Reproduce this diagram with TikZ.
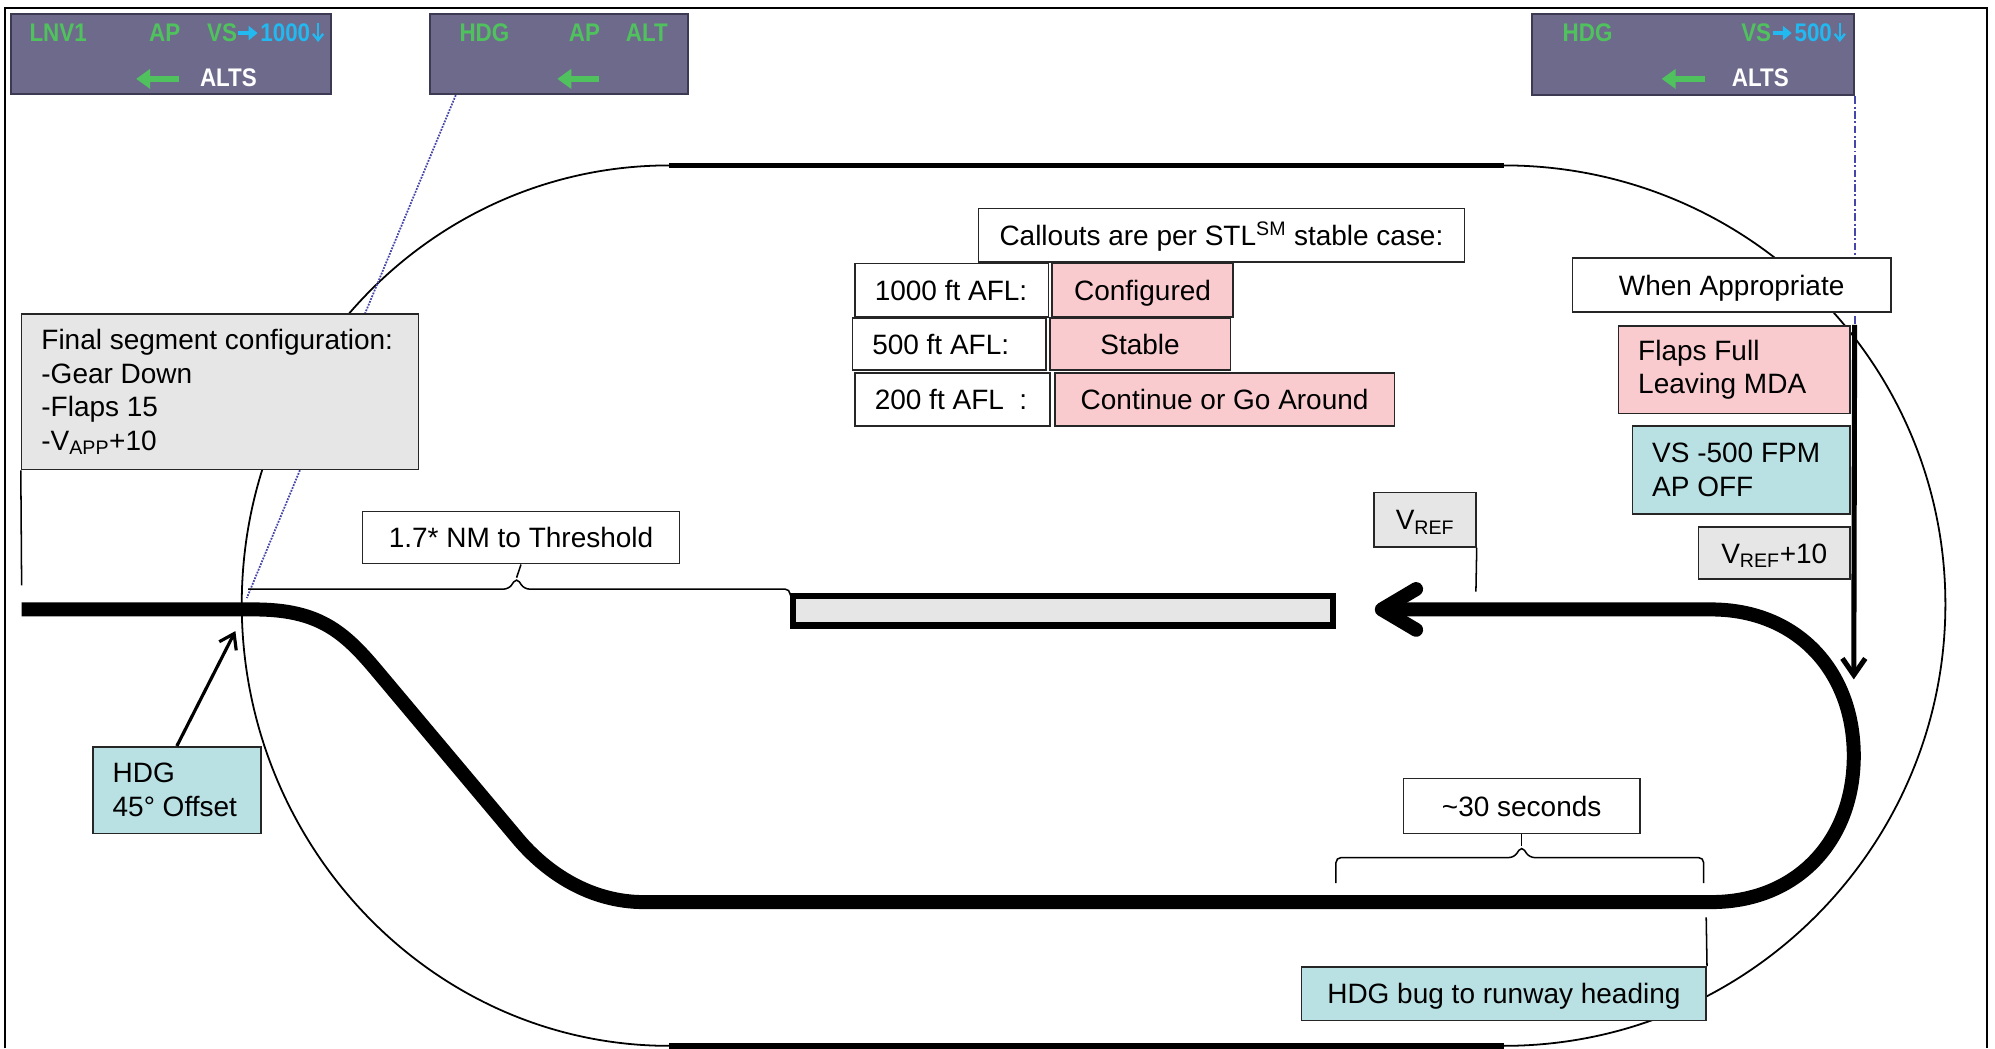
\documentclass[tikz,border=0pt]{standalone}
\usepackage{fontspec}
\setmainfont{Liberation Sans}
\newfontfamily\fmafont[FakeStretch=0.88]{Liberation Sans}
\usetikzlibrary{arrows.meta,calc,fit,positioning}

\definecolor{fmaback}{HTML}{6E6A8C}
\definecolor{fmaedge}{HTML}{3C3A52}
\definecolor{fmagreen}{HTML}{4FC25E}
\definecolor{fmacyan}{HTML}{22B8F0}
\definecolor{calloutpink}{HTML}{F9CBCE}
\definecolor{modecyan}{HTML}{B9E1E4}
\definecolor{speedgray}{HTML}{E6E6E6}
\definecolor{guideblue}{HTML}{4646AA}

\newcommand{\PTTrackWidth}{11pt}
\newcommand{\PTOvalWidth}{1.4pt}
\newcommand{\PTTextInset}{16}
\newcommand{\PTCapShift}{8}

\tikzset{
  ptbox/.style={draw=black!85, line width=1.3pt, fill=white, inner sep=0pt},
  pinkbox/.style={ptbox, fill=calloutpink},
  cyanbox/.style={ptbox, fill=modecyan},
  graybox/.style={ptbox, fill=speedgray},
  runwaybox/.style={draw=black, line width=5pt, fill=speedgray, inner sep=0pt},
  fmabox/.style={draw=fmaedge, line width=1.6pt, fill=fmaback, inner sep=0pt},
  fmatext/.style={font={\fmafont\bfseries\fontsize{20}{20}\selectfont}, inner sep=0pt},
  fmaarrow/.style={fmagreen, line width=4.5pt, -{Triangle[length=11pt,width=15pt]}},
  selarrow/.style={fmacyan, line width=3.5pt, -{Triangle[length=7pt,width=11pt]}},
  downarrow/.style={fmacyan, line width=1.8pt, -{Straight Barb[length=5pt,width=8pt]}},
  track/.style={line width=\PTTrackWidth, line join=round},
  oval/.style={line width=\PTOvalWidth},
  guide/.style={line width=1.2pt},
}

\newcommand{\PTBox}[5]{
  \coordinate (#2-nw) at #3;
  \coordinate (#2-se) at #4;
  \node[#1, fit=(#2-nw) (#2-se)] (#2) {};
  \node[anchor=base, inner sep=0pt] (#2-text) at ($(#2.center)+(0,\PTCapShift)$) {#5};
}
\newcommand{\PTBoxLeft}[5]{
  \coordinate (#2-nw) at #3;
  \coordinate (#2-se) at #4;
  \node[#1, fit=(#2-nw) (#2-se)] (#2) {};
  \node[align=left, anchor=west, inner sep=0pt] (#2-text) at ($(#2.west)+(\PTTextInset,0)$) {#5};
}
\newcommand{\FMAPanel}[3]{
  \coordinate (#1-nw) at #2;
  \coordinate (#1-se) at #3;
  \node[fmabox, fit=(#1-nw) (#1-se)] (#1) {};
}
\newcommand{\FMAVert}[3]{
  \node[fmatext, text=fmacyan, anchor=base east] (#1-alt) at #2 {#3};
  \draw[downarrow] ($(#1-alt.base east)+(6,-15)$) -- ($(#1-alt.base east)+(6,0)$);
  \draw[selarrow] ($(#1-alt.base west)+(-17,-7)$) -- ($(#1-alt.base west)+(-2,-7)$);
  \node[fmatext, text=fmagreen, anchor=base east] (#1-vs) at ($(#1-alt.base west)+(-18,0)$) {VS};
}

\begin{document}
\begin{tikzpicture}[x=1pt,y=-1pt,font=\fontsize{22}{26.4}\selectfont]
\useasboundingbox (0,0) rectangle (1568,824);
\draw[line width=1.5pt] (4,824) -- (4,6) -- (1562,6) -- (1562,824);

% pattern outline
\draw[oval] (526,130) .. controls (340,130) and (190,285) .. (190,475) .. controls (190,665) and (340,822) .. (526,822);
\draw[oval] (1182,130) .. controls (1374,130) and (1529,285) .. (1529,475) .. controls (1529,665) and (1374,822) .. (1182,822);
\draw[line width=4.5pt] (526,130) -- (1182,130);
\draw[line width=4.5pt] (526,822) -- (1182,822);

\FMAPanel{fma1}{(9,11)}{(260,74)}
\node[fmatext, text=fmagreen, anchor=base west] (fma1-lat) at (23,33) {LNV1};
\node[fmatext, text=fmagreen, anchor=base west] (fma1-ap) at (117,33) {AP};
\FMAVert{fma1}{(244,33)}{1000}
\node[fmatext, text=white, anchor=base west] (fma1-arm) at (157,68) {ALTS};
\draw[fmaarrow] (141,62) -- (107,62);

\FMAPanel{fma2}{(338,11)}{(541,74)}
\node[fmatext, text=fmagreen, anchor=base west] (fma2-lat) at (361,33) {HDG};
\node[fmatext, text=fmagreen, anchor=base west] (fma2-ap) at (447,33) {AP};
\node[fmatext, text=fmagreen, anchor=base east] (fma2-vert) at (525,33) {ALT};
\draw[fmaarrow] (471,62) -- (438,62);

\FMAPanel{fma3}{(1204,11)}{(1457,75)}
\node[fmatext, text=fmagreen, anchor=base west] (fma3-lat) at (1228,33) {HDG};
\FMAVert{fma3}{(1440,33)}{500}
\node[fmatext, text=white, anchor=base west] (fma3-arm) at (1361,68) {ALTS};
\draw[fmaarrow] (1340,62) -- (1306,62);

\coordinate (turnin) at (194,470);
\draw[guideblue, densely dotted, line width=1.4pt] ($(fma2.south west)+(21,0)$) -- (turnin);

% ground track
\coordinate (gate) at (200,479);
\coordinate (abeam) at (1345,709);
\coordinate (final) at (1345,479);
\draw[track] (17,479) -- (gate) .. controls (250,479) and (270,496) .. (296,527) -- (406,658)
  .. controls (430,687) and (465,709) .. (506,709) -- (abeam)
  .. controls (1412,709) and (1457,661) .. (1457,594)
  .. controls (1457,527) and (1412,479) .. (final) -- (1090,479);
\draw[track, line cap=round] (1113,463) -- (1086,479) -- (1113,495);

\PTBox{runwaybox}{runway}{(623.5,468.5)}{(1047.5,491.5)}{}

\PTBox{ptbox}{callouts}{(769,164)}{(1151,206)}{Callouts are per STL\textsuperscript{SM} stable case:}
\PTBoxLeft{ptbox}{afl1000}{(672,207)}{(824,249)}{1000 ft AFL:}
\PTBox{pinkbox}{configured}{(827,207)}{(969,249)}{Configured}
\PTBoxLeft{ptbox}{afl500}{(670,250)}{(822,291)}{500 ft AFL:}
\PTBox{pinkbox}{stable}{(825,250)}{(967,291)}{Stable}
\PTBoxLeft{ptbox}{afl200}{(672,293)}{(825,335)}{200 ft AFL\ \ :}
\PTBox{pinkbox}{goaround}{(829,293)}{(1096,335)}{Continue or Go Around}

\draw[guideblue, line width=1.3pt, dash pattern=on 6pt off 2pt on 1.5pt off 2pt] (fma3.south east) -- (fma3.south east |- 0,256);
\PTBox{ptbox}{appropriate}{(1236,203)}{(1486,245)}{When Appropriate}
\PTBoxLeft{pinkbox}{flaps}{(1272,256)}{(1454,325)}{Flaps Full\\Leaving MDA}
\PTBoxLeft{cyanbox}{vsmode}{(1283,335)}{(1454,404)}{VS -500 FPM\\AP OFF}
\PTBox{graybox}{vreften}{(1335,414)}{(1454,455)}{V\textsubscript{REF}+10}
\coordinate (descent) at (1457,534);
\draw[line width=4pt, -{Straight Barb[length=13pt,width=18pt]}] ($(flaps.north east)+(3,0)$) -- (descent);

\PTBox{graybox}{vref}{(1080,387)}{(1160,430)}{V\textsubscript{REF}}
\coordinate (vreftick) at (1160,465);
\draw[guide] (vref.south east) -- (vreftick);

\PTBoxLeft{graybox}{finalseg}{(17,247)}{(329,369)}{Final segment configuration:\\-Gear Down\\-Flaps 15\\-V\textsubscript{APP}+10}
\coordinate (finaltick) at (17,460);
\draw[guide] (finalseg.south west) -- (finaltick);

\PTBox{ptbox}{threshold}{(285,402)}{(534,443)}{1.7* NM to Threshold}
\coordinate (thrpeak) at (406,454);
\draw[guide, rounded corners=4pt] (195,463) -- (400,463) -- (thrpeak) -- (412,463) -| (runway.north west);
\draw[guide] (thrpeak) -- (threshold.south);

\PTBoxLeft{cyanbox}{offset}{(73,587)}{(205,655)}{HDG\\45° Offset}
\coordinate (offsettip) at (185,496);
\draw[line width=2.5pt, -{Straight Barb[length=11pt,width=15pt]}] (offset.north) -- (offsettip);

\PTBox{ptbox}{seconds}{(1103,612)}{(1289,655)}{\textasciitilde30 seconds}
\coordinate (secpeak) at (1196,665);
\draw[guide, rounded corners=4pt] (1050,694) |- (1190,674) -- (secpeak) -- (1202,674) -| (1339,694);
\draw[guide] (secpeak) -- (seconds.south);

\PTBox{cyanbox}{hdgbug}{(1023,760)}{(1341,802)}{HDG bug to runway heading}
\coordinate (bugtick) at (1341,721);
\draw[guide] (bugtick) -- (hdgbug.north east);
\end{tikzpicture}
\end{document}
